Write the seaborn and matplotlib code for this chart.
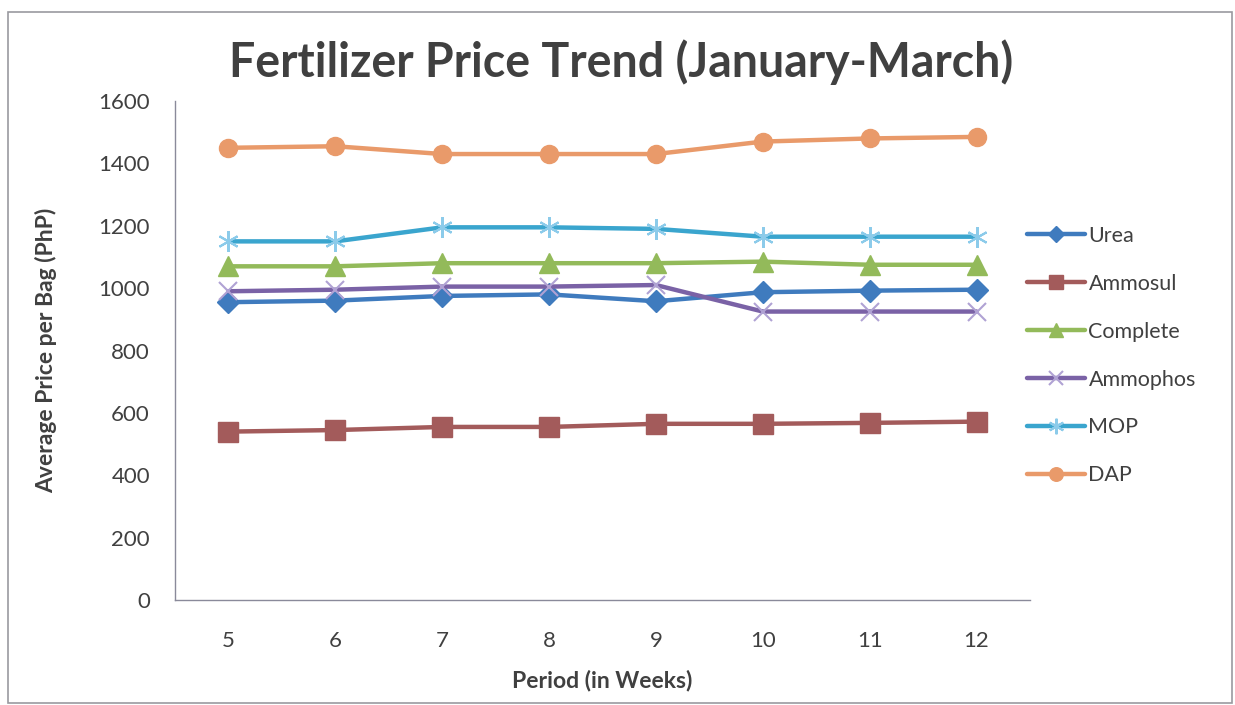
import matplotlib
matplotlib.use("Agg")
import matplotlib.pyplot as plt
import matplotlib.patches as patches
import pandas as pd
import seaborn as sns

weeks = [5, 6, 7, 8, 9, 10, 11, 12]
urea = [955, 960, 975, 980, 958, 987, 992, 995]
ammosul = [540, 545, 555, 555, 565, 565, 568, 572]
complete = [1070, 1070, 1080, 1080, 1080, 1085, 1075, 1075]
ammophos = [990, 995, 1005, 1005, 1010, 925, 925, 925]
mop = [1150, 1150, 1195, 1195, 1190, 1165, 1165, 1165]
dap = [1450, 1455, 1430, 1430, 1430, 1470, 1480, 1485]

names = ["Urea", "Ammosul", "Complete", "Ammophos", "MOP", "DAP"]
series = [urea, ammosul, complete, ammophos, mop, dap]

df = pd.DataFrame({
    "week": weeks * len(names),
    "price": sum(series, []),
    "fertilizer": [n for n in names for _ in weeks],
})

sns.set_style("white")
plt.rcParams["font.family"] = ["Lato", "DejaVu Sans"]

text_col = "#404040"
styles = {
    "Urea": dict(color="#3F7BBE", marker="D", ms=11, mec="#3F7BBE", mew=1),
    "Ammosul": dict(color="#A35B5B", marker="s", ms=14, mec="#A35B5B", mew=1),
    "Complete": dict(color="#93BA5A", marker="^", ms=14, mec="#93BA5A", mew=1),
    "Ammophos": dict(color="#7A62A6", marker="x", ms=13, mec="#B0A2D4", mew=1.5),
    "MOP": dict(color="#3AA5CE", marker=(6, 2, 0), ms=15, mec="#8CCBEA", mew=1.5),
    "DAP": dict(color="#E99A6A", marker="o", ms=13, mec="#E99A6A", mew=1),
}

fig = plt.figure(figsize=(12.35, 7.05), dpi=100)
ax = fig.add_axes([0.1417, 0.1489, 0.834 - 0.1417, 0.8567 - 0.1489])

for name in names:
    st = styles[name]
    sns.lineplot(
        data=df[df["fertilizer"] == name],
        x="week", y="price",
        color=st["color"], linewidth=3.2,
        marker=st["marker"], markersize=st["ms"],
        markeredgecolor=st["mec"], markerfacecolor=st["color"] if st["marker"] != "x" else st["mec"],
        markeredgewidth=st["mew"],
        label=name, ax=ax,
    )

ax.set_xlim(4.5, 12.5)
ax.set_ylim(0, 1600)
ax.set_yticks(range(0, 1601, 200))
ax.set_xticks(weeks)
ax.set_xticks([w - 0.5 for w in weeks] + [12.5], minor=True)
ax.tick_params(axis="x", which="major", length=0, pad=22, labelsize=16, labelcolor=text_col)
ax.tick_params(axis="x", which="minor", length=6, width=1, color="#8a8a9a", direction="out")
ax.tick_params(axis="y", which="major", length=8, width=1, color="#8a8a9a", direction="out",
               labelsize=16, labelcolor=text_col, pad=10)

for s in ["top", "right"]:
    ax.spines[s].set_visible(False)
for s in ["left", "bottom"]:
    ax.spines[s].set_color("#8a8a9a")
    ax.spines[s].set_linewidth(1)

ax.set_xlabel("Period (in Weeks)", fontsize=16.5, fontweight="bold", color=text_col, labelpad=14)
ax.set_ylabel("Average Price per Bag (PhP)", fontsize=16.5, fontweight="bold", color=text_col, labelpad=30)

fig.text(0.503, 0.912, "Fertilizer Price Trend (January-March)", ha="center", va="center",
         fontsize=33.5, fontweight="bold", color=text_col)

ax.legend(loc="center left", bbox_to_anchor=(0.974, 0.49), frameon=False, fontsize=15.5,
          labelcolor=text_col, handlelength=2.7, handletextpad=0.15, labelspacing=1.3,
          markerscale=0.75)

fig.patches.append(patches.Rectangle((8 / 1235, 2 / 705), 1224 / 1235, 691 / 705,
                                     transform=fig.transFigure, fill=False,
                                     edgecolor="#9a9aa0", linewidth=1.2))

fig.savefig("out.png", dpi=100)
